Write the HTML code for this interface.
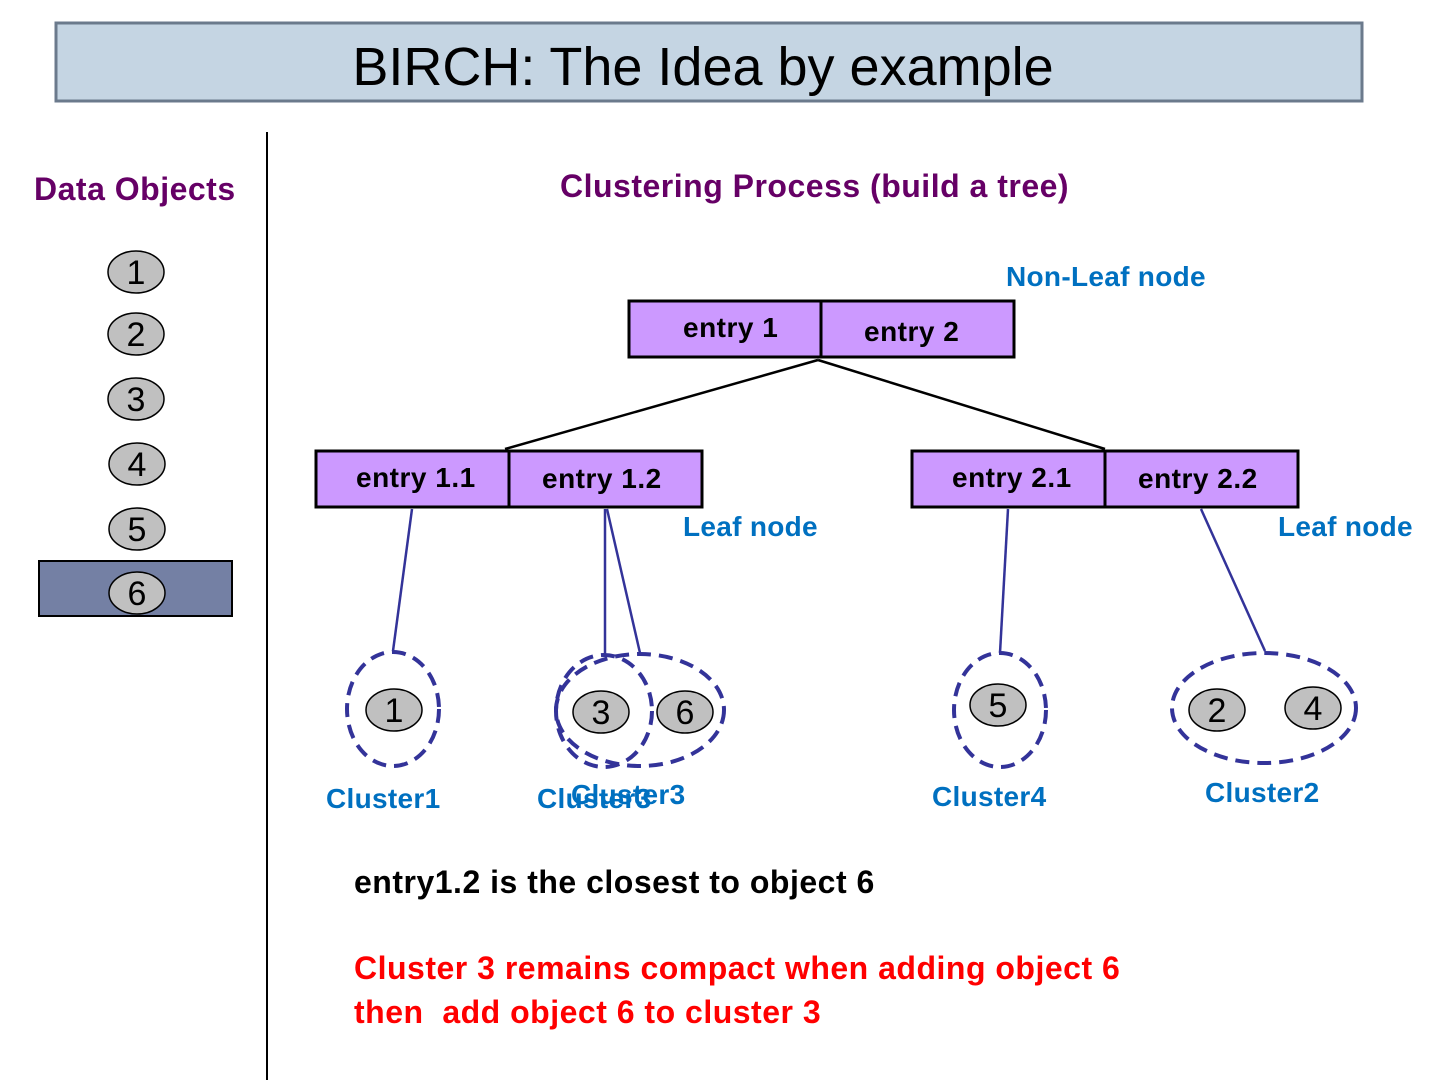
<!DOCTYPE html>
<html><head><meta charset="utf-8"><style>html,body{margin:0;padding:0;background:#fff}svg{display:block}</style></head><body>
<svg width="1440" height="1080" viewBox="0 0 1440 1080" xmlns="http://www.w3.org/2000/svg" font-family="Liberation Sans, sans-serif">
<rect x="56" y="23" width="1306" height="78" fill="#c5d5e3" stroke="#6b7a8c" stroke-width="3"/>
<text x="703" y="85" text-anchor="middle" font-size="54" fill="#000">BIRCH: The Idea by example</text>
<line x1="267" y1="132" x2="267" y2="1080" stroke="#000" stroke-width="2"/>
<text x="34" y="200" font-size="32" fill="#660066" font-weight="bold" letter-spacing="0.5">Data Objects</text>
<text x="560" y="197" font-size="32" fill="#660066" font-weight="bold" letter-spacing="0.5">Clustering Process  (build a tree)</text>
<rect x="39" y="561" width="193" height="55" fill="#7480a4" stroke="#000" stroke-width="2"/>
<g fill="#c0c0c0" stroke="#000" stroke-width="1.5">
<ellipse cx="136" cy="272" rx="28" ry="21"/><ellipse cx="136" cy="334" rx="28" ry="21"/>
<ellipse cx="136" cy="399" rx="28" ry="21"/><ellipse cx="137" cy="464" rx="28" ry="21"/>
<ellipse cx="137" cy="529" rx="28" ry="21"/><ellipse cx="137" cy="593" rx="28" ry="21"/>
<ellipse cx="394" cy="710" rx="28" ry="21"/><ellipse cx="601" cy="712" rx="28" ry="21"/>
<ellipse cx="685" cy="712" rx="28" ry="21"/><ellipse cx="998" cy="705" rx="28" ry="21"/>
<ellipse cx="1217" cy="710" rx="28" ry="21"/><ellipse cx="1313" cy="708" rx="28" ry="21"/>
</g>
<g font-size="34" fill="#000" text-anchor="middle">
<text x="136" y="284">1</text><text x="136" y="346">2</text><text x="136" y="411">3</text>
<text x="137" y="476">4</text><text x="137" y="541">5</text><text x="137" y="605">6</text>
<text x="394" y="722">1</text><text x="601" y="724">3</text><text x="685" y="724">6</text>
<text x="998" y="717">5</text><text x="1217" y="722">2</text><text x="1313" y="720">4</text>
</g>
<g fill="#cc99ff" stroke="#000" stroke-width="3">
<rect x="629" y="301" width="385" height="56"/><line x1="821" y1="301" x2="821" y2="357"/>
<rect x="316" y="451" width="386" height="56"/><line x1="509" y1="451" x2="509" y2="507"/>
<rect x="912" y="451" width="386" height="56"/><line x1="1105" y1="451" x2="1105" y2="507"/>
</g>
<g font-size="28" font-weight="bold" fill="#000" letter-spacing="0.5">
<text x="683" y="337">entry 1</text><text x="864" y="341">entry 2</text>
<text x="356" y="487">entry 1.1</text><text x="542" y="488">entry 1.2</text>
<text x="952" y="487">entry 2.1</text><text x="1138" y="488">entry 2.2</text>
</g>
<g stroke="#000" stroke-width="2.5">
<line x1="818" y1="360" x2="505" y2="449"/><line x1="818" y1="360" x2="1105" y2="449"/>
</g>
<g stroke="#333399" stroke-width="2.5">
<line x1="412" y1="509" x2="393" y2="651"/><line x1="605" y1="509" x2="605" y2="655"/>
<line x1="607" y1="509" x2="640" y2="653"/><line x1="1008" y1="509" x2="1000" y2="653"/>
<line x1="1201" y1="509" x2="1265" y2="651"/>
</g>
<g fill="none" stroke="#333399" stroke-width="4" stroke-dasharray="14 8">
<ellipse cx="393" cy="709" rx="46" ry="57"/><ellipse cx="604" cy="711" rx="48" ry="56"/>
<ellipse cx="640" cy="710" rx="84" ry="56"/><ellipse cx="1000" cy="710" rx="46" ry="57"/>
<ellipse cx="1264" cy="708" rx="92" ry="55"/>
</g>
<g font-size="28" fill="#0070c0" font-weight="bold" letter-spacing="0.3">
<text x="1006" y="286">Non-Leaf node</text>
<text x="683" y="536">Leaf node</text><text x="1278" y="536">Leaf node</text>
<text x="326" y="808">Cluster1</text><text x="537" y="808">Cluster3</text><text x="571" y="804">Cluster3</text>
<text x="932" y="806">Cluster4</text><text x="1205" y="802">Cluster2</text>
</g>
<text x="354" y="893" font-size="32" font-weight="bold" fill="#000" letter-spacing="0.5">entry1.2 is the closest to object 6</text>
<text x="354" y="979" font-size="32" font-weight="bold" fill="#ff0000" letter-spacing="0.5">Cluster 3 remains compact when adding object 6</text>
<text x="354" y="1023" font-size="32" font-weight="bold" fill="#ff0000" letter-spacing="0.5" xml:space="preserve">then  add object 6 to cluster 3</text>
</svg>
</body></html>
